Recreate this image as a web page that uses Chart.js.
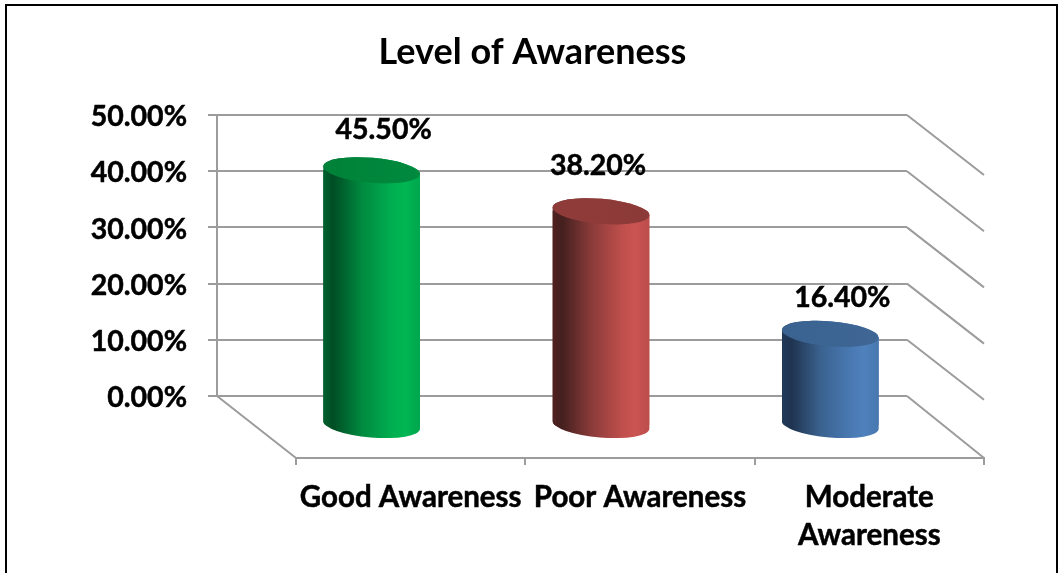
<!DOCTYPE html>
<html>
<head>
<meta charset="utf-8">
<title>Level of Awareness</title>
<style>
  html, body { margin: 0; padding: 0; background: #fff; }
  canvas { display: block; }
</style>
<script src="https://cdn.jsdelivr.net/npm/chart.js@4/dist/chart.umd.min.js"></script>
</head>
<body>
<canvas id="chart" width="1059" height="573"></canvas>
<script>
const chartTitle = 'Level of Awareness';
const categories = ['Good Awareness', 'Poor Awareness', ['Moderate', 'Awareness']];
const awareness = [45.5, 38.2, 16.4];
const yTicks = [0, 10, 20, 30, 40, 50];

// Cylinder shading, left to right, one ramp per category
const bodyRamps = [
  ['#00612e', '#004d24', '#008a40', '#00b050', '#00b653', '#00a64d'],
  ['#4f2120', '#45201f', '#8a3b39', '#bf4f4c', '#cb5452', '#bb4d4a'],
  ['#213a59', '#1f3450', '#3a628f', '#4a7ab4', '#4f81bd', '#4877ae']
];
const bodyStops = [0, 0.1, 0.4, 0.72, 0.85, 1];
const capColors = [
  ['#008238', '#008a3f'],
  ['#8f3b39', '#8c3a38'],
  ['#3a6391', '#3f6694']
];

// Shear of the box: the floor's depth and where the bars stand inside it
const FONT = 'Lato';
const VALUE_SIZE = 28.5;
const CATEGORY_SIZE = 29.5;
const TITLE_SIZE = 36;
const TEXT_STROKE = 0.5;
const depth = { x: 77, y: 60 };
const barShift = { x: -39, y: 30 };
const capRadius = { x: 48.5, y: 12.5, tilt: 0.085 };
const labelOffsets = [[12, -40], [-3, -46], [12, -36]];
const Y_LABEL_DROP = 2;
const GRID = '#9c9c9c';

function gradientFor(ctx, scaleX, i, stops) {
  const c = scaleX.getPixelForValue(i);
  if (!Number.isFinite(c)) return stops[0];
  const g = ctx.createLinearGradient(c - capRadius.x, 0, c + capRadius.x, 0);
  stops.forEach((col, k) => g.addColorStop(stops.length === bodyStops.length ? bodyStops[k] : k / (stops.length - 1), col));
  return g;
}

function bodyPath(ctx, bar) {
  const { x, y, base } = bar.getProps(['x', 'y', 'base']);
  ctx.moveTo(x - capRadius.x * Math.cos(capRadius.tilt), base - capRadius.x * Math.sin(capRadius.tilt));
  ctx.ellipse(x, base, capRadius.x, capRadius.y, capRadius.tilt, Math.PI, 0, true);
  ctx.lineTo(x + capRadius.x * Math.cos(capRadius.tilt), y + capRadius.x * Math.sin(capRadius.tilt));
  ctx.ellipse(x, y, capRadius.x, capRadius.y, capRadius.tilt, 0, Math.PI, true);
  ctx.closePath();
}

const boxPlugin = {
  id: 'box3d',
  afterLayout(chart) {
    // The category axis runs along the front edge of the floor
    const { x, y } = chart.scales;
    x.left = y.right + 79 ;
    x.right = x.left + 688;
    x.width = 688;
    x.top = y.bottom + 62;
    x.bottom = 573;
    x.height = x.bottom - x.top;
    x.configure();
    // The title is centred on the whole frame
    chart.titleBlock.left = 6;
    chart.titleBlock.right = 1059;
    chart.titleBlock.width = 1053;
  },
  beforeDraw(chart) {
    const { ctx, scales: { y } } = chart;
    ctx.save();
    ctx.strokeStyle = '#000';
    ctx.lineWidth = 2;
    ctx.strokeRect(6, 5, 1051, 640);
    ctx.restore();
    // Optical centring of the value-axis labels against their grid lines
    if (!y.$labelsDropped) {
      y.getLabelItems(chart.chartArea).forEach(item => {
        const holder = item.options && item.options.translation ? item.options : item;
        holder.translation = [holder.translation[0], holder.translation[1] + Y_LABEL_DROP];
      });
      y.$labelsDropped = true;
    }
  },
  beforeDatasetsDraw(chart) {
    const { ctx, scales: { x, y }, chartArea } = chart;
    ctx.save();
    ctx.strokeStyle = GRID;
    ctx.lineWidth = 2;
    ctx.beginPath();
    y.ticks.forEach(t => {
      const py = y.getPixelForValue(t.value);
      ctx.moveTo(chartArea.right, py);
      if (t.value === 0) ctx.lineTo(x.right, x.top);
      else ctx.lineTo(chartArea.right + depth.x, py + depth.y);
    });
    ctx.moveTo(chartArea.left, y.bottom);
    ctx.lineTo(x.left, x.top);
    ctx.stroke();
    ctx.restore();

    // Bars are cut to the cylinder outline before they are painted
    const bars = chart.getDatasetMeta(0).data;
    ctx.save();
    ctx.translate(barShift.x, barShift.y);
    ctx.beginPath();
    bars.forEach(b => bodyPath(ctx, b));
    ctx.clip();
  },
  afterDatasetsDraw(chart) {
    const { ctx, scales: { x } } = chart;
    ctx.restore();
    const bars = chart.getDatasetMeta(0).data;
    ctx.save();
    ctx.translate(barShift.x, barShift.y);
    bars.forEach((b, i) => {
      ctx.fillStyle = gradientFor(ctx, x, i, bodyRamps[i]);
      ctx.beginPath();
      bodyPath(ctx, b);
      ctx.fill();
      const { x: bx, y: by } = b.getProps(['x', 'y']);
      ctx.fillStyle = gradientFor(ctx, x, i, capColors[i]);
      ctx.beginPath();
      ctx.ellipse(bx, by, capRadius.x, capRadius.y, capRadius.tilt, 0, Math.PI * 2);
      ctx.fill();
    });
    ctx.restore();

    // Value labels above each cap
    ctx.save();
    ctx.font = `bold ${VALUE_SIZE}px ${FONT}`;
    ctx.fillStyle = '#000';
    ctx.strokeStyle = '#000';
    ctx.lineWidth = TEXT_STROKE;
    ctx.textAlign = 'center';
    ctx.textBaseline = 'middle';
    bars.forEach((b, i) => {
      const { x: bx, y: by } = b.getProps(['x', 'y']);
      const text = awareness[i].toFixed(2) + '%';
      const tx = bx + barShift.x + labelOffsets[i][0];
      const ty = by + barShift.y + labelOffsets[i][1];
      ctx.strokeText(text, tx, ty);
      ctx.fillText(text, tx, ty);
    });
    ctx.restore();
  }
};

new Chart(document.getElementById('chart'), {
  type: 'bar',
  data: {
    labels: categories,
    datasets: [{
      data: awareness,
      barThickness: 97,
      borderWidth: 0,
      clip: false,
      backgroundColor: c => gradientFor(c.chart.ctx, c.chart.scales.x, c.dataIndex, bodyRamps[c.dataIndex])
    }]
  },
  plugins: [boxPlugin],
  options: {
    responsive: false,
    animation: false,
    layout: { padding: { left: 0, right: 152, top: 0, bottom: 0 } },
    plugins: {
      legend: { display: false },
      tooltip: { enabled: false },
      title: {
        display: true,
        text: chartTitle,
        color: '#000',
        font: { family: FONT, size: TITLE_SIZE, weight: 'bold', lineHeight: 1.2 },
        padding: { top: 31, bottom: 40.8 }
      }
    },
    scales: {
      y: {
        min: 0,
        max: 50,
        afterFit: s => { s.width = 217; },
        afterBuildTicks: s => { s.ticks = yTicks.map(value => ({ value })); },
        border: { display: true, color: GRID, width: 2 },
        grid: { color: GRID, lineWidth: 2, tickLength: 9 },
        ticks: {
          color: '#000',
          padding: 21,
          textStrokeColor: '#000',
          textStrokeWidth: TEXT_STROKE,
          font: { family: FONT, size: VALUE_SIZE, weight: 'bold' },
          callback: v => v.toFixed(2) + '%'
        }
      },
      x: {
        afterFit: s => { s.height = 177; },
        offset: true,
        border: { display: true, color: GRID, width: 2 },
        grid: { offset: true, color: GRID, lineWidth: 2, tickLength: 7, drawOnChartArea: false },
        ticks: {
          color: '#000',
          padding: 13,
          maxRotation: 0,
          minRotation: 0,
          autoSkip: false,
          textStrokeColor: '#000',
          textStrokeWidth: TEXT_STROKE,
          font: { family: FONT, size: CATEGORY_SIZE, weight: 'bold', lineHeight: 1.29 }
        }
      }
    }
  }
});
</script>
</body>
</html>
